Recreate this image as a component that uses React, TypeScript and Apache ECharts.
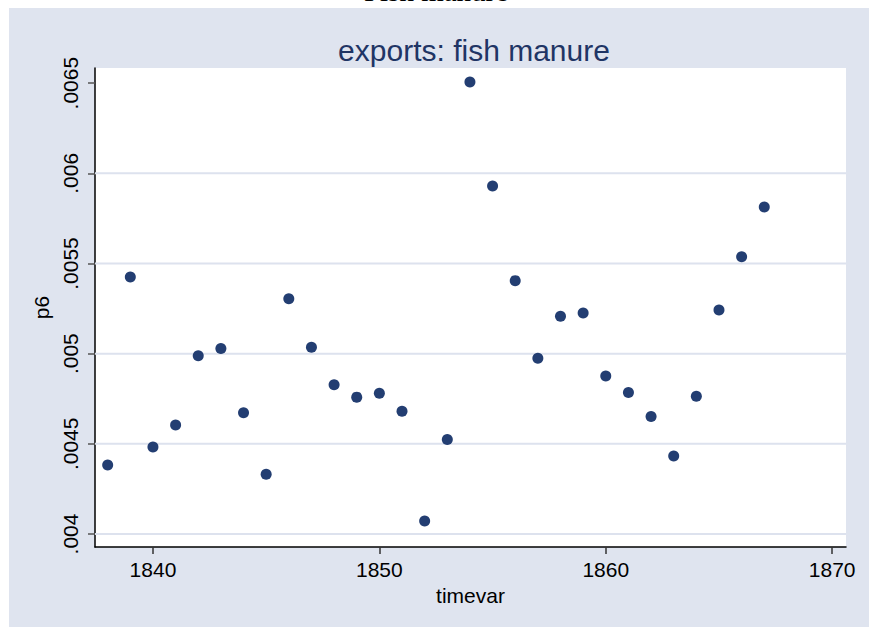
import React, { useEffect, useRef } from "react";
import * as echarts from "echarts";

const years = [1838, 1839, 1840, 1841, 1842, 1843, 1844, 1845, 1846, 1847, 1848, 1849, 1850, 1851, 1852, 1853, 1854, 1855, 1856, 1857, 1858, 1859, 1860, 1861, 1862, 1863, 1864, 1865, 1866, 1867];
const p6 = [0.004383, 0.005425, 0.004482, 0.004604, 0.004989, 0.005029, 0.004673, 0.004332, 0.005305, 0.005035, 0.004828, 0.004759, 0.004781, 0.004681, 0.004072, 0.004524, 0.006506, 0.005930, 0.005405, 0.004974, 0.005207, 0.005225, 0.004876, 0.004785, 0.004652, 0.004433, 0.004764, 0.005242, 0.005537, 0.005813];
const xTicks = [1840, 1850, 1860, 1870];
const yTicks = [0.004, 0.0045, 0.005, 0.0055, 0.006, 0.0065];
const yTickLabels = [".004", ".0045", ".005", ".0055", ".006", ".0065"];
const gridValues = [0.004, 0.0045, 0.005, 0.0055, 0.006];

const X_MIN = 1837.44;
const X_MAX = 1870.61;
const BG = "#dfe4ef";
const NAVY = "#233e72";
const FONT = "Liberation Sans, Arial, sans-serif";

export default function App() {
  const ref = useRef<HTMLDivElement>(null);
  useEffect(() => {
    if (!ref.current) return;
    const chart = echarts.init(ref.current, undefined, { renderer: "svg" });
    const gridSeries = gridValues.map((v) => ({
      type: "line",
      z: 1,
      silent: true,
      symbol: "none",
      lineStyle: { color: "#dde2ee", width: 2 },
      data: [
        [X_MIN, v],
        [X_MAX, v],
      ],
    }));
    chart.setOption({
      animation: false,
      backgroundColor: BG,
      textStyle: { fontFamily: FONT },
      title: {
        text: "exports: fish manure",
        left: 469,
        textAlign: "center",
        top: 30,
        textStyle: { color: "#1f3565", fontSize: 30, fontWeight: "normal", fontFamily: FONT },
      },
      graphic: [
        { type: "rect", shape: { x: 0, y: 0, width: 869, height: 8 }, style: { fill: "#fff" }, silent: true },
        { type: "rect", shape: { x: 0, y: 0, width: 9, height: 627 }, style: { fill: "#fff" }, silent: true },
        {
          type: "text",
          x: 436,
          y: 5,
          z: 10,
          style: {
            text: "Fish manure",
            fill: "#000",
            font: "29px 'Liberation Serif', serif",
            align: "center",
            verticalAlign: "bottom",
          },
          silent: true,
        },
      ],
      grid: {
        left: 95,
        right: 23,
        top: 68,
        bottom: 80,
        show: true,
        backgroundColor: "#fff",
        borderWidth: 0,
      },
      xAxis: {
        type: "value",
        min: X_MIN,
        max: X_MAX,
        name: "timevar",
        nameLocation: "middle",
        nameGap: 35,
        nameTextStyle: { color: "#000", fontSize: 21, fontFamily: FONT },
        axisLine: { show: true, onZero: false, lineStyle: { color: "#000", width: 1.5 } },
        axisTick: { show: true, inside: false, length: 7, customValues: xTicks, lineStyle: { color: "#333", width: 1.5 } },
        axisLabel: { customValues: xTicks, color: "#000", fontSize: 21, margin: 12, fontFamily: FONT, formatter: (v: number) => String(Math.round(v)) },
        splitLine: { show: false },
      },
      yAxis: {
        type: "value",
        min: 0.003928,
        max: 0.006584,
        name: "p6",
        nameLocation: "middle",
        nameGap: 40,
        nameRotate: 90,
        nameTextStyle: { color: "#000", fontSize: 21, fontFamily: FONT },
        axisLine: { show: true, onZero: false, lineStyle: { color: "#000", width: 1.5 } },
        axisTick: { show: true, inside: false, length: 7, customValues: yTicks, lineStyle: { color: "#555", width: 1.5 } },
        axisLabel: {
          customValues: yTicks,
          rotate: 90,
          color: "#000",
          fontSize: 21,
          margin: 14,
          fontFamily: FONT,
          formatter: (v: number) => {
            let best = 0;
            for (let i = 0; i < yTicks.length; i++) if (Math.abs(yTicks[i] - v) < Math.abs(yTicks[best] - v)) best = i;
            return yTickLabels[best];
          },
        },
        splitLine: { show: false },
      },
      series: [
        ...gridSeries,
        {
          type: "scatter",
          z: 3,
          symbol: "circle",
          symbolSize: 11,
          itemStyle: { color: NAVY, opacity: 1 },
          data: years.map((y, i) => [y, p6[i]]),
        },
      ],
    });
    return () => chart.dispose();
  }, []);
  return <div ref={ref} style={{ position: "absolute", left: 0, top: 0, width: 869, height: 627 }} />;
}
